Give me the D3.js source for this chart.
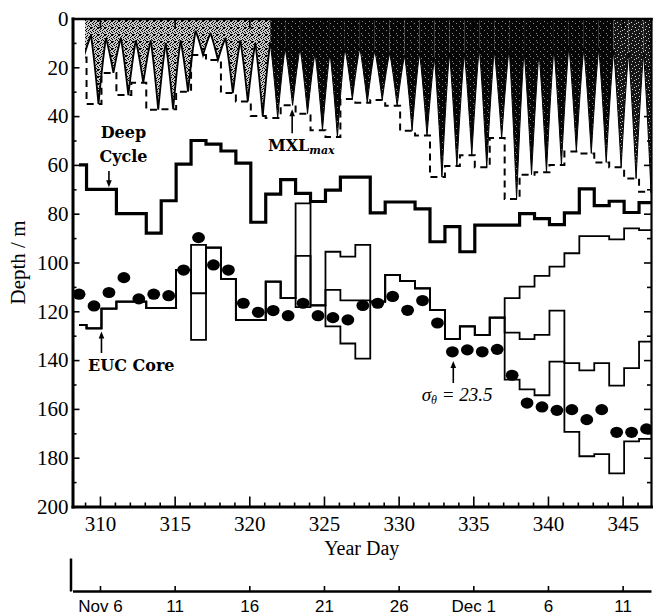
<!DOCTYPE html>
<html><head><meta charset="utf-8">
<script src="https://cdn.jsdelivr.net/npm/d3@7"></script>
<style>body{margin:0;background:#fff}svg{display:block}</style>
</head><body>
<svg id="c" width="653" height="616"></svg>
<script>
// ---------------- data ----------------
const days = [308,309,310,311,312,313,314,315,316,317,318,319,320,321,322,323,324,325,326,327,
              328,329,330,331,332,333,334,335,336,337,338,339,340,341,342,343,344,345,346];
const deepCycle = [60,70,70,80,80,88,74.7,59.7,50,51.5,54.3,59.3,83.5,72,66,71.7,75,70.3,65,65,
                   79.7,75.2,75.2,78,91.5,85.3,95.6,84.7,84.7,84.7,80,82,84.5,79.7,69.8,76.7,74.9,79.5,75.5];
const eucCore  = [125.6,127,118.9,116,116,118.7,118.7,103,112.6,93.9,106.7,123.5,123.5,107.8,114.6,97.3,117.6,111.2,115.5,115.5,
                  116,105.1,107.6,110.6,119.4,131.4,126.2,129.7,122.6,128.7,131.4,129.7,119.7,141.2,144.2,141.2,150.5,143.3,132.4];
const eucUpper = [125.6,127,118.9,116,116,118.7,118.7,103,92.8,93.9,106.7,123.5,123.5,107.8,114.6,75.8,117.6,95.6,97.6,92.8,
                  116,105.1,107.6,110.6,119.4,131.4,126.2,129.7,122.6,114.6,109.9,105.5,101.7,96.2,89.2,89.2,90.5,86,86.7];
const eucLower = [125.6,127,118.9,116,116,118.7,118.7,103,131.7,93.9,106.7,123.5,123.5,107.8,114.6,118.3,117.6,126.2,133.2,139.4,
                  116,105.1,107.6,110.6,119.4,131.4,126.2,129.7,122.6,148,152,154.4,140.6,169.4,179.4,178.5,186.4,173.3,172.3];
const sigma235 = [113,117.8,112.3,106.2,114.9,113,113.6,103.1,89.8,101,103.1,116.7,120.4,119.7,121.8,116.7,121.8,122.6,123.5,117.6,
                  116.7,113.9,119.6,115.6,124.8,136.6,135.8,136.6,135.6,146.2,157.6,159.2,160.6,160.3,164.4,160.3,169.6,169.6,168.2];
const mxlMax   = [16,35,22.3,31.4,26.3,37.4,37.2,30,15,17,30.5,34,40,40.8,35.6,39,45.8,48.6,33,34.5,
                  33.4,35.8,46,48,65,60.5,56,61,49,74,64,63,60,54.5,55.3,59,61,65.6,71];
const mxlMin   = [6,7,8,8,9,9,10,9,5,6,8,9,10,10,12,12,14,14,12,12,
                  13,14,15,14,16,14,14,12,13,12,13,14,12,11,12,12,13,14,14];
const mxlStart = 309.0;       // first time of the mixed-layer record
const seriesStart = 308.6;    // first sample of the daily series
const xMajor = [310,315,320,325,330,335,340,345];
const xMinor = [309,311,312,313,314,316,317,318,319,321,322,323,324,326,327,328,329,331,332,333,334,336,337,338,339,341,342,343,344,346];
const yMajor = [0,20,40,60,80,100,120,140,160,180,200];
const yMinor = [10,30,50,70,90,110,130,150,170,190];
const dateDays = [310,315,320,325,330,335,340,345];
const dateLabels = ["Nov 6","11","16","21","26","Dec 1","6","11"];

// ---------------- layout ----------------
const svg = d3.select("#c");
const x = d3.scaleLinear().domain([308.16, 346.9]).range([72.5, 651]);
const y = d3.scaleLinear().domain([0, 200]).range([18.5, 506.5]);
const dayOff = 0.1, dotOff = 0.6, tipOff = 0.9, halfW = 0.5;
const serif = "Liberation Serif", boldSerif = "DejaVu Serif";

const defs = svg.append("defs");
defs.append("clipPath").attr("id","plotClip").append("rect")
  .attr("x", x.range()[0]).attr("y", y.range()[0])
  .attr("width", x.range()[1]-x.range()[0]).attr("height", y.range()[1]-y.range()[0]);
defs.append("clipPath").attr("id","mxlClip").append("rect")
  .attr("x", x(mxlStart)).attr("y", y.range()[0])
  .attr("width", x.range()[1]-x(mxlStart)).attr("height", y.range()[1]-y.range()[0]);

function pattern(id, size, bg, dots, dotColor){
  const p = defs.append("pattern").attr("id",id).attr("width",size).attr("height",size).attr("patternUnits","userSpaceOnUse");
  p.append("rect").attr("width",size).attr("height",size).attr("fill",bg);
  dots.forEach(([a,b])=>p.append("rect").attr("x",a).attr("y",b).attr("width",1).attr("height",1).attr("fill",dotColor));
}
pattern("pLight", 7, "#c8c8c8",
  [[0,0],[3,0],[5,1],[1,2],[4,2],[6,3],[2,3],[0,4],[5,5],[3,5],[1,6],[6,6],[4,4],[2,1],[6,0],[0,6]], "#000");
pattern("pMid", 7, "#161616", [[1,1],[4,3],[2,5],[5,6],[6,2]], "#d0d0d0");
pattern("pDark", 7, "#060606", [[1,2],[4,5],[5,0]], "#8a8a8a");

const plot = svg.append("g").attr("clip-path","url(#plotClip)");
const mxlG = plot.append("g").attr("clip-path","url(#mxlClip)");

// ---------------- mixed layer (daily spikes) ----------------
const fillFor = d => d <= 320 ? "url(#pLight)" : (d >= 344 ? "url(#pMid)" : "url(#pDark)");
days.forEach((d,i)=>{
  const tx = x(d+tipOff), ty = y(mxlMax[i]);
  const xl = x(d+tipOff-halfW), xr = x(d+tipOff+halfW);
  const yl = y(mxlMin[i]), yr = y(i+1 < days.length ? mxlMin[i+1] : mxlMin[i]);
  const y0 = y(0);
  const clx = tx-0.6*(tx-xl), cly = yl+0.3*(ty-yl);
  const crx = tx+0.6*(xr-tx), cry = yr+0.3*(ty-yr);
  const f = d3.path();
  f.moveTo(xl,y0); f.lineTo(xl,yl); f.quadraticCurveTo(clx,cly,tx,ty);
  f.quadraticCurveTo(crx,cry,xr,yr); f.lineTo(xr,y0); f.closePath();
  mxlG.append("path").attr("d",f.toString()).attr("fill", fillFor(d));
  const s = d3.path();
  s.moveTo(xl,yl); s.quadraticCurveTo(clx,cly,tx,ty); s.quadraticCurveTo(crx,cry,xr,yr);
  mxlG.append("path").attr("d",s.toString()).attr("fill","none").attr("stroke","#000")
    .attr("stroke-width", d <= 320 ? 1.8 : 1);
});

// ---------------- step lines ----------------
function stepPts(vals, start){
  const pts = [];
  days.forEach((d,i)=>{ pts.push([Math.max(d+dayOff,start), vals[i]], [d+1+dayOff, vals[i]]); });
  return pts;
}
const line = d3.line().x(p=>x(p[0])).y(p=>y(p[1]));

mxlG.append("path").attr("d", line(stepPts(mxlMax, mxlStart)))
  .attr("fill","none").attr("stroke","#000").attr("stroke-width",2).attr("stroke-dasharray","7,5");

[eucLower, eucCore, eucUpper].forEach(v=>{
  plot.append("path").attr("d", line(stepPts(v, seriesStart)))
    .attr("fill","none").attr("stroke","#000").attr("stroke-width",1.8).attr("stroke-linejoin","miter");
});
plot.append("path").attr("d", line(stepPts(deepCycle, seriesStart)))
  .attr("fill","none").attr("stroke","#000").attr("stroke-width",3.2).attr("stroke-linejoin","miter");

// dots
plot.selectAll("ellipse.s").data(days).join("ellipse")
  .attr("cx", d=>x(d+dotOff)).attr("cy",(d,i)=>y(sigma235[i]))
  .attr("rx",6.4).attr("ry",5.6).attr("fill","#000");

// ---------------- axes ----------------
function styleAxis(g, w){
  g.select(".domain").attr("stroke","#000").attr("stroke-width",w).attr("stroke-linecap","square");
  g.selectAll(".tick line").attr("stroke","#000").attr("stroke-width",1.6);
  g.attr("font-family", serif).attr("font-size",21);
  g.selectAll(".tick text").attr("fill","#000");
}
const L = x.range()[0], R = x.range()[1], T = y.range()[0], B = y.range()[1];
svg.append("g").attr("transform",`translate(${L},0)`)
  .call(d3.axisLeft(y).tickValues(yMajor).tickSizeInner(-7).tickSizeOuter(0).tickPadding(4)).call(g=>styleAxis(g,3));
svg.append("g").attr("transform",`translate(${L},0)`)
  .call(d3.axisLeft(y).tickValues(yMinor).tickSizeInner(-4).tickSizeOuter(0).tickFormat(()=>""))
  .call(g=>{styleAxis(g,3); g.select(".domain").remove();});
svg.append("g").attr("transform",`translate(${R},0)`)
  .call(d3.axisRight(y).tickValues(yMajor).tickSizeInner(-7).tickSizeOuter(0).tickFormat(()=>"")).call(g=>styleAxis(g,2.2));
svg.append("g").attr("transform",`translate(${R},0)`)
  .call(d3.axisRight(y).tickValues(yMinor).tickSizeInner(-4).tickSizeOuter(0).tickFormat(()=>""))
  .call(g=>{styleAxis(g,2); g.select(".domain").remove();});
svg.append("g").attr("transform",`translate(0,${B})`)
  .call(d3.axisBottom(x).tickValues(xMajor).tickSizeInner(-10).tickSizeOuter(0).tickPadding(10)).call(g=>styleAxis(g,3));
svg.append("g").attr("transform",`translate(0,${B})`)
  .call(d3.axisBottom(x).tickValues(xMinor).tickSizeInner(-4).tickSizeOuter(0).tickFormat(()=>""))
  .call(g=>{styleAxis(g,3); g.select(".domain").remove();});
svg.append("g").attr("transform",`translate(0,${T})`)
  .call(d3.axisTop(x).tickValues(xMajor).tickSizeInner(-10).tickSizeOuter(0).tickFormat(()=>"")).call(g=>styleAxis(g,2.5));

// date axis
const dateG = svg.append("g").attr("transform","translate(0,591)")
  .call(d3.axisBottom(x).tickValues(dateDays).tickFormat((d,i)=>dateLabels[i]).tickSizeInner(-5).tickSizeOuter(0).tickPadding(9));
dateG.select(".domain").attr("stroke","#000").attr("stroke-width",2.5);
dateG.selectAll(".tick line").attr("stroke","#000").attr("stroke-width",1.6);
dateG.attr("font-family","Liberation Sans").attr("font-size",17);
dateG.selectAll(".tick text").attr("fill","#000");
svg.append("g").attr("transform",`translate(${L-2},0)`)
  .call(d3.axisLeft(d3.scaleLinear().range([591,558])).tickValues([]).tickSizeOuter(0))
  .call(g=>g.select(".domain").attr("stroke","#000").attr("stroke-width",2.5));

// axis titles
svg.append("text").attr("x",(L+R)/2).attr("y",555).attr("text-anchor","middle")
  .attr("font-family",serif).attr("font-size",20).text("Year Day");
svg.append("text").attr("transform",`translate(25,${(T+B)/2}) rotate(-90)`).attr("text-anchor","middle")
  .attr("font-family",serif).attr("font-size",21).text("Depth / m");

// ---------------- annotations ----------------
function arrow(day, fromDepth, toDepth){
  const x0 = x(day), y0 = y(fromDepth), y1 = y(toDepth);
  const dir = Math.sign(y1-y0);
  svg.append("line").attr("x1",x0).attr("x2",x0).attr("y1",y0).attr("y2",y1-dir*5)
    .attr("stroke","#000").attr("stroke-width",1.6);
  svg.append("path").attr("d",`M${x0},${y1} L${x0-2.8},${y1-dir*7} L${x0+2.8},${y1-dir*7} Z`).attr("fill","#000");
}
const lab = (day, depth, txt, anchor) => svg.append("text").attr("x",x(day)).attr("y",y(depth))
  .attr("text-anchor",anchor).attr("font-family",boldSerif).attr("font-weight","bold").attr("font-size",16).text(txt);
lab(311.57, 48.9, "Deep", "middle");
lab(311.57, 58.7, "Cycle", "middle");
arrow(310.6, 62.5, 69.2);
lab(309.2, 144.3, "EUC Core", "start");
arrow(310.1, 137.1, 128.3);
const mx = lab(321.25, 54.3, "MXL", "start");
mx.append("tspan").attr("font-size",11).attr("font-style","italic").attr("dy",3).text("max");
arrow(322.87, 47, 37.2);
const sg = svg.append("text").attr("x",x(331.54)).attr("y",y(156.8)).attr("font-family",serif)
  .attr("font-style","italic").attr("font-size",19);
sg.append("tspan").text("σ");
sg.append("tspan").attr("font-size",12).attr("dy",3).text("θ");
sg.append("tspan").attr("dy",-3).text(" = 23.5");
arrow(333.66, 149.4, 140.4);
</script>
</body></html>
